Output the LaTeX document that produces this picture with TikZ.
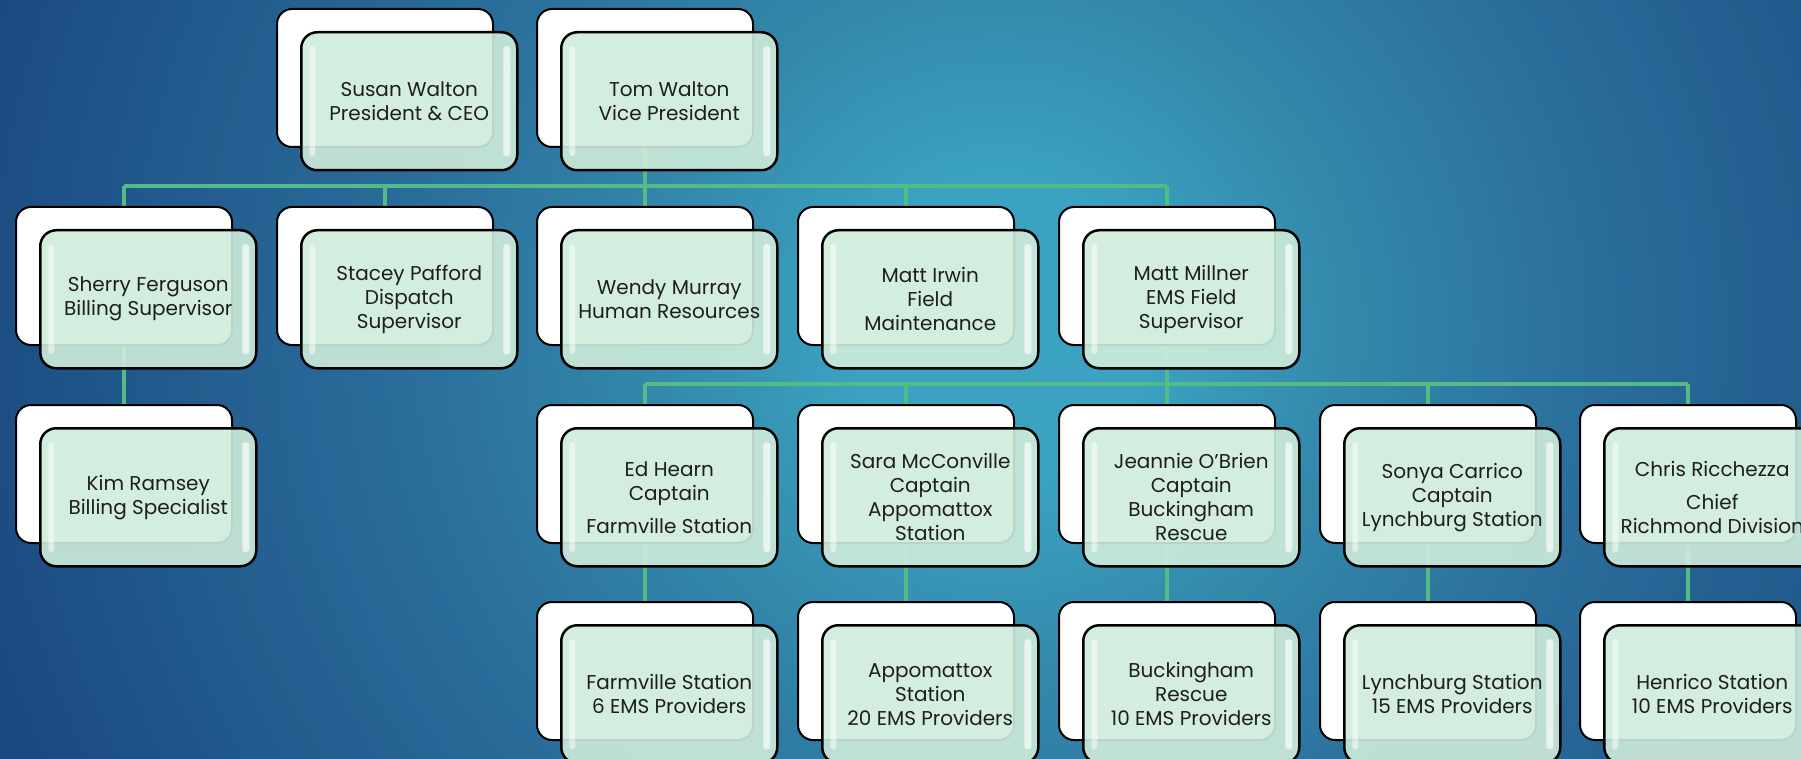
\documentclass[tikz,border=0pt]{standalone}
\usepackage{fontspec}
\setmainfont{Poppins}
\usetikzlibrary{calc}
\definecolor{bgA}{HTML}{3BA2C1}
\definecolor{bgB}{HTML}{3388AA}
\definecolor{bgC}{HTML}{2A6D9B}
\definecolor{bgD}{HTML}{215A8C}
\definecolor{bgE}{HTML}{1B4A80}
\definecolor{mint}{HTML}{CFECDB}
\definecolor{conngreen}{HTML}{55BB85}
\definecolor{txt}{HTML}{1E1E1E}
\pgfdeclareradialshading{bgshade}{\pgfpoint{0bp}{0bp}}{color(0bp)=(bgA); color(3.75bp)=(bgA); color(8.75bp)=(bgB); color(15bp)=(bgC); color(21.25bp)=(bgD); color(26.25bp)=(bgE); color(50bp)=(bgE)}
\pgfdeclarelayer{bg}
\pgfdeclarelayer{lines}
\pgfsetlayers{bg,lines,main}
\tikzset{
  backbox/.style={draw=black, line width=2pt, fill=white, rounded corners=15pt,
    minimum width=216pt, minimum height=138pt, inner sep=0pt, anchor=north west},
  frontbox/.style={draw=black, line width=2.5pt, fill=mint, fill opacity=0.9, text opacity=1,
    rounded corners=16pt, minimum width=216pt, minimum height=138pt, inner sep=0pt,
    anchor=north west, align=center, text=txt, font=\fontsize{20}{24}\selectfont,
    path picture={
      \fill[white, fill opacity=0.5, rounded corners=3pt]
        ($(path picture bounding box.north west)+(8pt,-14pt)$) rectangle
        ($(path picture bounding box.south west)+(14pt,14pt)$);
      \fill[white, fill opacity=0.65, rounded corners=3pt]
        ($(path picture bounding box.north east)+(-14pt,-14pt)$) rectangle
        ($(path picture bounding box.south east)+(-7pt,14pt)$);
    }},
  conn/.style={draw=conngreen, line width=4pt},
}
\begin{document}
\begin{tikzpicture}[x=1pt, y=-1pt]
\useasboundingbox (0,0) rectangle (1801,759);
\clip (0,0) rectangle (1801,759);
\begin{pgfonlayer}{bg}
  \shade[shading=bgshade] (0,-670) rectangle (2000,1330);
\end{pgfonlayer}

% row 1
\node[backbox] (susanB) at (276,8) {};
\node[frontbox] (susan) at (300,31) {Susan Walton\\President \& CEO};
\node[backbox] (tomB) at (536,8) {};
\node[frontbox] (tom) at (560,31) {Tom Walton\\Vice President};

% row 2
\node[backbox] (sherryB) at (15,206) {};
\node[frontbox] (sherry) at (39,229) {Sherry Ferguson\\Billing Supervisor};
\node[backbox] (staceyB) at (276,206) {};
\node[frontbox] (stacey) at (300,229) {Stacey Pafford\\Dispatch\\Supervisor};
\node[backbox] (wendyB) at (536,206) {};
\node[frontbox] (wendy) at (560,229) {Wendy Murray\\Human Resources};
\node[backbox] (irwinB) at (797,206) {};
\node[frontbox] (irwin) at (821,229) {Matt Irwin\\Field\\Maintenance};
\node[backbox] (millnerB) at (1058,206) {};
\node[frontbox] (millner) at (1082,229) {Matt Millner\\EMS Field\\Supervisor};

% row 3
\node[backbox] (kimB) at (15,404) {};
\node[frontbox] (kim) at (39,427) {Kim Ramsey\\Billing Specialist};
\node[backbox] (edB) at (536,404) {};
\node[frontbox] (ed) at (560,427) {Ed Hearn\\Captain\\[9pt]Farmville Station};
\node[backbox] (saraB) at (797,404) {};
\node[frontbox] (sara) at (821,427) {Sara McConville\\Captain\\Appomattox\\Station};
\node[backbox] (jeannieB) at (1058,404) {};
\node[frontbox] (jeannie) at (1082,427) {Jeannie O’Brien\\Captain\\Buckingham\\Rescue};
\node[backbox] (sonyaB) at (1319,404) {};
\node[frontbox] (sonya) at (1343,427) {Sonya Carrico\\Captain\\Lynchburg Station};
\node[backbox] (chrisB) at (1579,404) {};
\node[frontbox] (chris) at (1603,427) {Chris Ricchezza\\[9pt]Chief\\Richmond Division};

% row 4
\node[backbox] (farmB) at (536,601) {};
\node[frontbox] (farm) at (560,624) {Farmville Station\\6 EMS Providers};
\node[backbox] (appoB) at (797,601) {};
\node[frontbox] (appo) at (821,624) {Appomattox\\Station\\20 EMS Providers};
\node[backbox] (buckB) at (1058,601) {};
\node[frontbox] (buck) at (1082,624) {Buckingham\\Rescue\\10 EMS Providers};
\node[backbox] (lynchB) at (1319,601) {};
\node[frontbox] (lynch) at (1343,624) {Lynchburg Station\\15 EMS Providers};
\node[backbox] (henB) at (1579,601) {};
\node[frontbox] (hen) at (1603,624) {Henrico Station\\10 EMS Providers};

\coordinate (bus1) at (0,186);
\coordinate (bus2) at (0,384);

\begin{pgfonlayer}{lines}
  \draw[conn] (tomB.center) -- (tomB.center |- bus1);
  \draw[conn] (sherryB.north |- bus1) -- (millnerB.north |- bus1);
  \foreach \c in {sherryB,staceyB,wendyB,irwinB,millnerB}
    \draw[conn] (\c.north |- bus1) -- (\c.north);
  \draw[conn] (sherryB.center) -- (kimB.north);
  \draw[conn] (millnerB.center) -- (millnerB.center |- bus2);
  \draw[conn] (edB.north |- bus2) -- (chrisB.north |- bus2);
  \foreach \c in {edB,saraB,jeannieB,sonyaB,chrisB}
    \draw[conn] (\c.north |- bus2) -- (\c.north);
  \draw[conn] (edB.center) -- (farmB.north);
  \draw[conn] (saraB.center) -- (appoB.north);
  \draw[conn] (jeannieB.center) -- (buckB.north);
  \draw[conn] (sonyaB.center) -- (lynchB.north);
  \draw[conn] (chrisB.center) -- (henB.north);
\end{pgfonlayer}
\end{tikzpicture}
\end{document}
